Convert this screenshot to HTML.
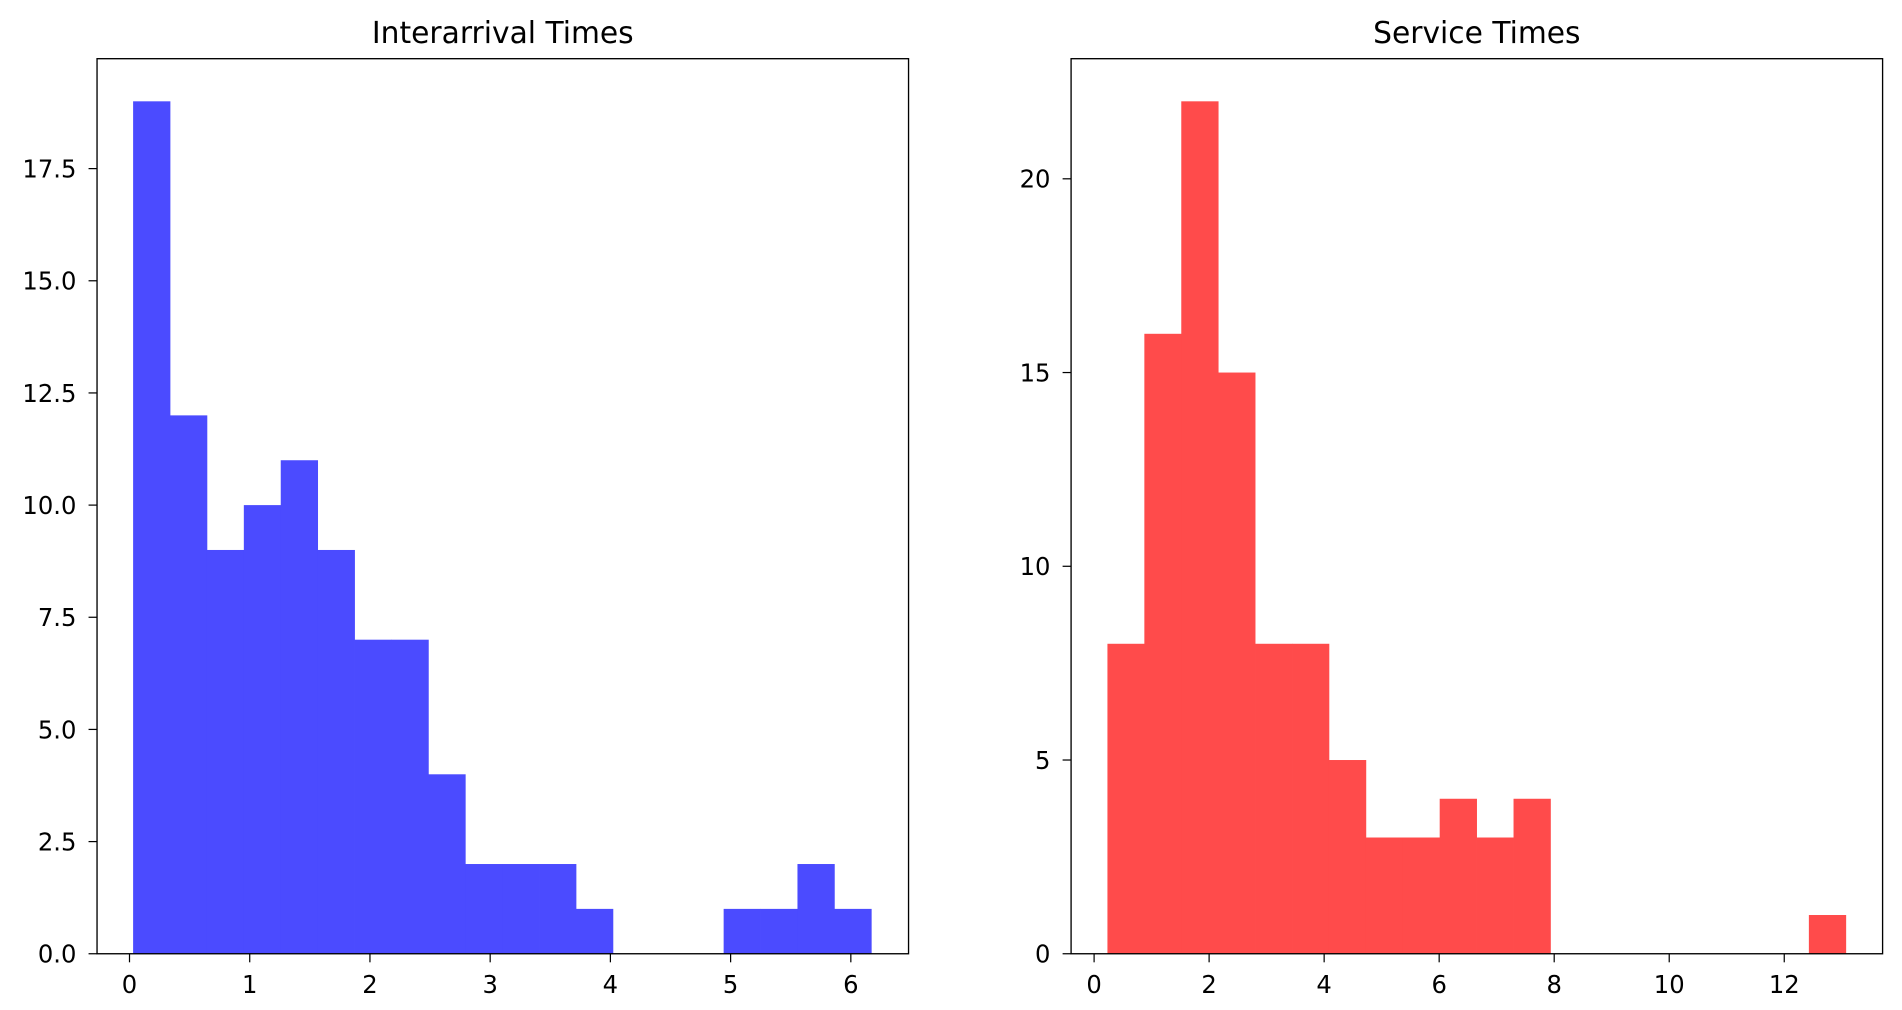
<!DOCTYPE html>
<html><head><meta charset="utf-8"><style>
html,body{margin:0;padding:0;background:#fff;}
svg{display:block;}
text{font-family:"DejaVu Sans","Liberation Sans",sans-serif;fill:#000;}
</style></head><body>
<svg id="fig" width="1902" height="1010" viewBox="0 0 1568 826" preserveAspectRatio="none" xmlns="http://www.w3.org/2000/svg"></svg>
<script>
const leftCounts = [19,12,9,10,11,9,7,7,4,2,2,2,1,0,0,0,1,1,2,1];
const leftRange = [0.03, 6.17];
const leftXTicks = [0,1,2,3,4,5,6];
const leftYTicks = [0,2.5,5,7.5,10,12.5,15,17.5];
const leftYLabels = ["0.0","2.5","5.0","7.5","10.0","12.5","15.0","17.5"];
const rightCounts = [8,16,22,15,8,8,5,3,3,4,3,4,0,0,0,0,0,0,0,1];
const rightRange = [0.232, 13.07];
const rightXTicks = [0,2,4,6,8,10,12];
const rightYTicks = [0,5,10,15,20];
const rightYLabels = ["0","5","10","15","20"];

const NS="http://www.w3.org/2000/svg";
const svg=document.getElementById('fig');
function mk(tag,attrs,parent){const e=document.createElementNS(NS,tag);for(const k in attrs)e.setAttribute(k,attrs[k]);(parent||svg).appendChild(e);return e;}

function panel(opt){
  const g=mk('g',{});
  
  
  const x0=opt.px0,x1=opt.px1,y0=48,y1=780;
  const sx=v=>x0+(v-opt.xlim[0])/(opt.xlim[1]-opt.xlim[0])*(x1-x0);
  const sy=v=>y1-(v-0)/(opt.ylim[1]-0)*(y1-y0);
  const n=opt.counts.length,w=(opt.range[1]-opt.range[0])/n;
  opt.counts.forEach((c,i)=>{
    if(c<=0)return;
    const a=sx(opt.range[0]+i*w),b=sx(opt.range[0]+(i+1)*w);
    const r=mk('rect',{x:a,y:sy(c),width:b-a+0.3,height:sy(0)-sy(c),fill:opt.color},g);
    
    
  });
  const fr=mk('rect',{x:x0,y:y0,width:x1-x0,height:y1-y0,fill:'none',stroke:'#000','stroke-width':1.1},g);
  
  
  opt.xticks.forEach(t=>{
    const x=sx(t);
    mk('line',{x1:x,x2:x,y1:y1,y2:y1+7,stroke:'#000','stroke-width':1},g);
    const tx=mk('text',{x:x,y:y1+32,'text-anchor':'middle','font-size':20},g);
    tx.textContent=String(t);
    
    
  });
  opt.yticks.forEach((t,i)=>{
    const y=sy(t);
    mk('line',{x1:x0-7,x2:x0,y1:y,y2:y,stroke:'#000','stroke-width':1},g);
    const tx=mk('text',{x:x0-17,y:y+7.3,'text-anchor':'end','font-size':20},g);
    tx.textContent=opt.ylabels[i];
    
    
  });
  const ti=mk('text',{x:(x0+x1)/2,y:35,'text-anchor':'middle','font-size':24.5},g);
  ti.textContent=opt.title;
  
  
}
panel({name:'interarrival-histogram',px0:80,px1:749,xlim:[-0.27,6.48],ylim:[0,19.95],counts:leftCounts,range:leftRange,xticks:leftXTicks,yticks:leftYTicks,ylabels:leftYLabels,color:'#4b4bff',title:'Interarrival Times'});
panel({name:'service-histogram',px0:883,px1:1552,xlim:[-0.40,13.71],ylim:[0,23.1],counts:rightCounts,range:rightRange,xticks:rightXTicks,yticks:rightYTicks,ylabels:rightYLabels,color:'#ff4b4b',title:'Service Times'});
</script>
</body></html>
